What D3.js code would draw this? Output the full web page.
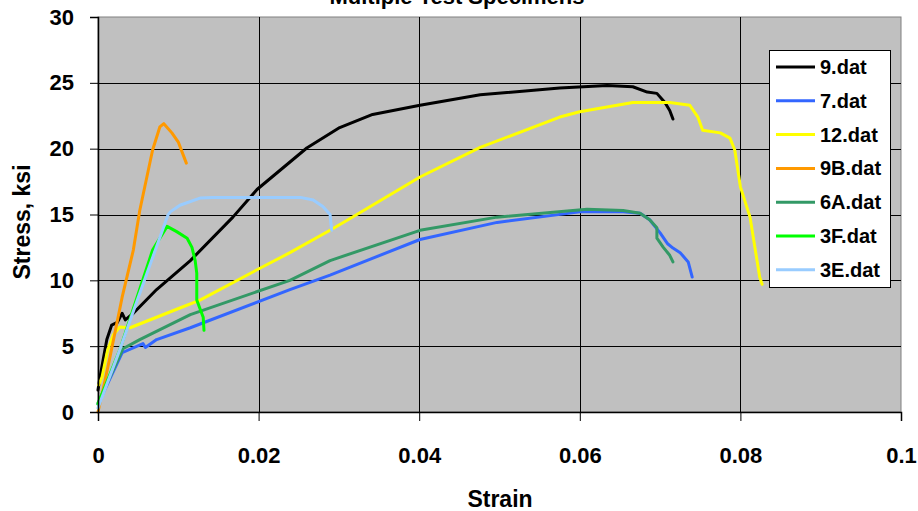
<!DOCTYPE html>
<html>
<head>
<meta charset="utf-8">
<script src="https://cdn.jsdelivr.net/npm/d3@7"></script>
<style>
  body { margin: 0; background: #fff; }
  text { font-family: "Liberation Sans", Arial, sans-serif; font-weight: bold; fill: #000; }
</style>
</head>
<body>
<svg id="chart" width="918" height="511"></svg>
<script>
// series in legend order: [strain, stress ksi]
const seriesNames = ["9.dat", "7.dat", "12.dat", "9B.dat", "6A.dat", "3F.dat", "3E.dat"];
const seriesColors = ["#000000", "#3366FF", "#FFFF00", "#FF9900", "#339966", "#00FF00", "#99CCFF"];

const s9 = [[0, 1.67], [0.00025, 2.66], [0.0011, 5.5], [0.0017, 6.6], [0.0024, 6.8], [0.003, 7.5],
  [0.0034, 7.0], [0.0044, 7.5], [0.0073, 9.3], [0.0115, 11.5], [0.0168, 14.8], [0.0198, 16.9],
  [0.026, 20.05], [0.0301, 21.6], [0.0342, 22.6], [0.0401, 23.3], [0.0476, 24.1], [0.0575, 24.6],
  [0.0634, 24.8], [0.0666, 24.7], [0.0684, 24.3], [0.0696, 24.2], [0.0706, 23.5], [0.0712, 22.9],
  [0.0716, 22.25]];
const s7 = [[0, 0.6], [0.003, 4.5], [0.0056, 5.2], [0.0059, 4.9], [0.0073, 5.5], [0.0115, 6.4],
  [0.0239, 9.3], [0.0289, 10.4], [0.0401, 13.1], [0.0497, 14.4], [0.06, 15.2], [0.0654, 15.2],
  [0.0675, 15.1], [0.0687, 14.6], [0.07, 13.6], [0.0709, 12.8], [0.0716, 12.45], [0.0725, 12.1],
  [0.0735, 11.4], [0.074, 10.25]];
const s12 = [[0.0001, 2.05], [0.0005, 2.66], [0.0012, 4.7], [0.0019, 5.85], [0.0027, 6.45],
  [0.004, 6.4], [0.0102, 7.9], [0.0127, 8.5], [0.0198, 10.8], [0.0239, 12.1], [0.0289, 13.8],
  [0.0314, 14.7], [0.0401, 17.85], [0.0476, 20.1], [0.0575, 22.4], [0.06, 22.8], [0.0666, 23.5],
  [0.0712, 23.5], [0.0737, 23.3], [0.0747, 22.4], [0.0753, 21.4], [0.0775, 21.2], [0.0787, 20.8],
  [0.0793, 19.9], [0.08, 17.1], [0.0812, 14.8], [0.0824, 10.25], [0.0827, 9.7]];
const s9B = [[0, 0], [0.00075, 2.05], [0.0015, 4.2], [0.003, 8.7], [0.0044, 12.3], [0.0052, 15.3],
  [0.0068, 19.9], [0.0077, 21.65], [0.0082, 21.9], [0.0092, 21.2], [0.01, 20.5], [0.0105, 19.7],
  [0.011, 18.9]];
const s6A = [[0, 0.7], [0.0031, 4.8], [0.0052, 5.5], [0.0115, 7.4], [0.0239, 10.0], [0.0289, 11.5],
  [0.0401, 13.8], [0.0497, 14.8], [0.0609, 15.4], [0.0654, 15.3], [0.0675, 15.1], [0.0687, 14.6],
  [0.0696, 14.0], [0.0696, 13.2], [0.0704, 12.5], [0.0712, 11.9], [0.0716, 11.4]];
const s3F = [[0, 0.6], [0.0027, 4.7], [0.0068, 12.3], [0.0086, 14.1], [0.0098, 13.7], [0.0111, 13.2],
  [0.0117, 12.5], [0.0121, 11.5], [0.0123, 10.55], [0.0123, 8.5], [0.0131, 7.2], [0.0132, 6.2]];
const s3E = [[0, 0.3], [0.0027, 4.7], [0.0049, 8.5], [0.0087, 14.95], [0.009, 15.2], [0.0102, 15.7],
  [0.0127, 16.25], [0.0143, 16.3], [0.0252, 16.3], [0.0268, 16.1], [0.028, 15.6], [0.0289, 15.0],
  [0.0291, 13.8]];
const seriesData = [s9, s7, s12, s9B, s6A, s3F, s3E];

const xTicks = [0, 0.02, 0.04, 0.06, 0.08, 0.1];
const yTicks = [0, 5, 10, 15, 20, 25, 30];

const svg = d3.select("#chart");
const plot = { left: 98, right: 901, top: 17, bottom: 412 };

const x = d3.scaleLinear().domain([0, 0.1]).range([plot.left, plot.right]);
const y = d3.scaleLinear().domain([0, 30]).range([plot.bottom, plot.top]);

// plot background
svg.append("rect")
  .attr("x", plot.left).attr("y", plot.top)
  .attr("width", plot.right - plot.left).attr("height", plot.bottom - plot.top)
  .attr("fill", "#C0C0C0").attr("stroke", "#808080").attr("stroke-width", 1);

// grid lines
svg.append("g").selectAll("line")
  .data(yTicks.filter(d => d > 0 && d < 30))
  .join("line")
  .attr("x1", plot.left).attr("x2", plot.right)
  .attr("y1", d => Math.round(y(d)) + 0.5).attr("y2", d => Math.round(y(d)) + 0.5)
  .attr("stroke", "#000").attr("stroke-width", 1);
svg.append("g").selectAll("line")
  .data(xTicks.filter(d => d > 0 && d < 0.1))
  .join("line")
  .attr("x1", d => Math.round(x(d)) + 0.5).attr("x2", d => Math.round(x(d)) + 0.5)
  .attr("y1", plot.top).attr("y2", plot.bottom)
  .attr("stroke", "#000").attr("stroke-width", 1);

// series
const line = d3.line().x(d => x(d[0])).y(d => y(d[1]));
svg.append("g").selectAll("path")
  .data(seriesData)
  .join("path")
  .attr("d", line)
  .attr("fill", "none")
  .attr("stroke", (d, i) => seriesColors[i])
  .attr("stroke-width", 3)
  .attr("stroke-linejoin", "round")
  .attr("stroke-linecap", "round");

// axes
const xAxis = svg.append("g")
  .attr("transform", `translate(0,${plot.bottom})`)
  .call(d3.axisBottom(x).tickValues(xTicks).tickFormat(d3.format("~g")).tickSize(9).tickPadding(26));
const yAxis = svg.append("g")
  .attr("transform", `translate(${plot.left},0)`)
  .call(d3.axisLeft(y).tickValues(yTicks).tickSize(8).tickPadding(16));
[xAxis, yAxis].forEach(g => {
  g.select(".domain").attr("stroke", "#000").attr("stroke-width", 1.5);
  g.selectAll(".tick line").attr("stroke", "#000");
  g.selectAll(".tick text").attr("font-size", 22).attr("font-family", null);
  g.attr("font-family", null);
});

// titles
svg.append("text")
  .attr("x", 457).attr("y", 4)
  .attr("text-anchor", "middle").attr("font-size", 22)
  .text("Multiple Test Specimens");
svg.append("text")
  .attr("x", 500).attr("y", 507)
  .attr("text-anchor", "middle").attr("font-size", 23)
  .text("Strain");
svg.append("text")
  .attr("transform", "translate(30,222) rotate(-90)")
  .attr("text-anchor", "middle").attr("font-size", 23)
  .text("Stress, ksi");

// legend
const legend = svg.append("g");
legend.append("rect")
  .attr("x", 769.5).attr("y", 50.5).attr("width", 121).attr("height", 237)
  .attr("fill", "#fff").attr("stroke", "#000").attr("stroke-width", 1);
const rows = legend.selectAll("g.row")
  .data(seriesNames)
  .join("g")
  .attr("class", "row")
  .attr("transform", (d, i) => `translate(776,${67 + i * 33.8})`);
rows.append("line")
  .attr("x1", 0).attr("x2", 39)
  .attr("stroke", (d, i) => seriesColors[i]).attr("stroke-width", 3);
rows.append("text")
  .attr("x", 44).attr("dy", "0.35em")
  .attr("font-size", 20)
  .text(d => d);
</script>
</body>
</html>
